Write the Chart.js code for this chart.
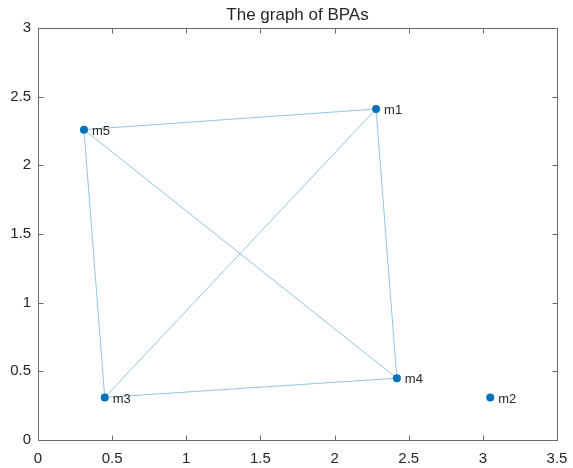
<!DOCTYPE html>
<html>
<head>
<meta charset="utf-8">
<script src="https://cdn.jsdelivr.net/npm/chart.js@4"></script>
<style>
  html, body { margin: 0; padding: 0; background: #ffffff; }
  #wrap { width: 573px; height: 468px; }
</style>
</head>
<body>
<div id="wrap"><canvas id="c" width="573" height="468"></canvas></div>
<script>
// Node names and their positions
const nodeNames = ['m1', 'm2', 'm3', 'm4', 'm5'];
const nodeX = [2.28, 3.05, 0.45, 2.42, 0.31];
const nodeY = [2.41, 0.31, 0.31, 0.45, 2.26];

// Edges of the graph (m2 is isolated)
const edgeFrom = ['m1', 'm1', 'm1', 'm3', 'm3', 'm4'];
const edgeTo   = ['m3', 'm4', 'm5', 'm4', 'm5', 'm5'];

// Axis ticks
const xTicks = [0, 0.5, 1, 1.5, 2, 2.5, 3, 3.5];
const yTicks = [0, 0.5, 1, 1.5, 2, 2.5, 3];

const titleText = 'The graph of BPAs';

const NODE_COLOR = '#0072BD';
const EDGE_COLOR = 'rgba(0, 114, 189, 0.42)';
const AXIS_COLOR = '#6a6a6a';
const TEXT_COLOR = '#262626';
const FONT = '"Liberation Sans", Arial, Helvetica, sans-serif';

const idx = name => nodeNames.indexOf(name);

const edgeDatasets = edgeFrom.map((from, i) => {
  const a = idx(from), b = idx(edgeTo[i]);
  return {
    type: 'line',
    label: from + '-' + edgeTo[i],
    data: [{ x: nodeX[a], y: nodeY[a] }, { x: nodeX[b], y: nodeY[b] }],
    borderColor: EDGE_COLOR,
    borderWidth: 1,
    pointRadius: 0,
    pointHoverRadius: 0,
    fill: false,
    tension: 0
  };
});

const nodeDataset = {
  type: 'scatter',
  label: 'nodes',
  data: nodeNames.map((n, i) => ({ x: nodeX[i], y: nodeY[i] })),
  backgroundColor: NODE_COLOR,
  borderColor: NODE_COLOR,
  borderWidth: 0,
  pointRadius: 4,
  pointHoverRadius: 4
};

// Box around the axes, inward tick marks, title and node labels
const decorations = {
  id: 'decorations',
  afterDatasetsDraw(chart) {
    const ctx = chart.ctx;
    const ca = chart.chartArea;
    const xs = chart.scales.x, ys = chart.scales.y;
    ctx.save();

    // node labels
    const meta = chart.getDatasetMeta(chart.data.datasets.length - 1);
    ctx.fillStyle = TEXT_COLOR;
    ctx.font = '13px ' + FONT;
    ctx.textAlign = 'left';
    ctx.textBaseline = 'middle';
    meta.data.forEach((pt, i) => {
      ctx.fillText(nodeNames[i], pt.x + 8, pt.y + 1.5);
    });

    // axes box
    ctx.strokeStyle = AXIS_COLOR;
    ctx.lineWidth = 1;
    const L = Math.round(ca.left) + 0.5, R = Math.round(ca.right) + 0.5;
    const T = Math.round(ca.top) + 0.5, B = Math.round(ca.bottom) + 0.5;
    ctx.beginPath();
    ctx.rect(L, T, R - L, B - T);
    ctx.stroke();

    // inward ticks
    const tl = 5;
    ctx.beginPath();
    xTicks.forEach(v => {
      const px = Math.round(xs.getPixelForValue(v)) + 0.5;
      ctx.moveTo(px, B); ctx.lineTo(px, B - tl);
      ctx.moveTo(px, T); ctx.lineTo(px, T + tl);
    });
    yTicks.forEach(v => {
      const py = Math.round(ys.getPixelForValue(v)) + 0.5;
      ctx.moveTo(L, py); ctx.lineTo(L + tl, py);
      ctx.moveTo(R, py); ctx.lineTo(R - tl, py);
    });
    ctx.stroke();

    // title
    ctx.fillStyle = TEXT_COLOR;
    ctx.font = '17px ' + FONT;
    ctx.textAlign = 'center';
    ctx.textBaseline = 'alphabetic';
    ctx.fillText(titleText, (ca.left + ca.right) / 2, ca.top - 8);

    ctx.restore();
  }
};

new Chart(document.getElementById('c'), {
  data: { datasets: [...edgeDatasets, nodeDataset] },
  options: {
    responsive: false,
    devicePixelRatio: 1,
    animation: false,
    layout: { padding: { top: 28, right: 16, left: 0, bottom: 0 } },
    plugins: {
      legend: { display: false },
      tooltip: { enabled: false },
      title: { display: false }
    },
    scales: {
      x: {
        type: 'linear',
        min: 0,
        max: 3.5,
        grid: { display: false, drawTicks: false },
        border: { display: false },
        afterBuildTicks: s => { s.ticks = xTicks.map(v => ({ value: v })); },
        afterFit: s => { s.height = 28; s.paddingLeft = 0; s.paddingRight = 0; },
        ticks: {
          color: TEXT_COLOR,
          font: { family: FONT, size: 15 },
          padding: 10,
          maxRotation: 0,
          autoSkip: false,
          callback: v => String(v)
        }
      },
      y: {
        type: 'linear',
        min: 0,
        max: 3,
        grid: { display: false, drawTicks: false },
        border: { display: false },
        afterBuildTicks: s => { s.ticks = yTicks.map(v => ({ value: v })); },
        afterFit: s => { s.width = 38; s.paddingTop = 0; s.paddingBottom = 0; },
        ticks: {
          color: TEXT_COLOR,
          font: { family: FONT, size: 15 },
          padding: 7,
          autoSkip: false,
          callback: v => String(v)
        }
      }
    }
  },
  plugins: [decorations]
});
</script>
</body>
</html>
